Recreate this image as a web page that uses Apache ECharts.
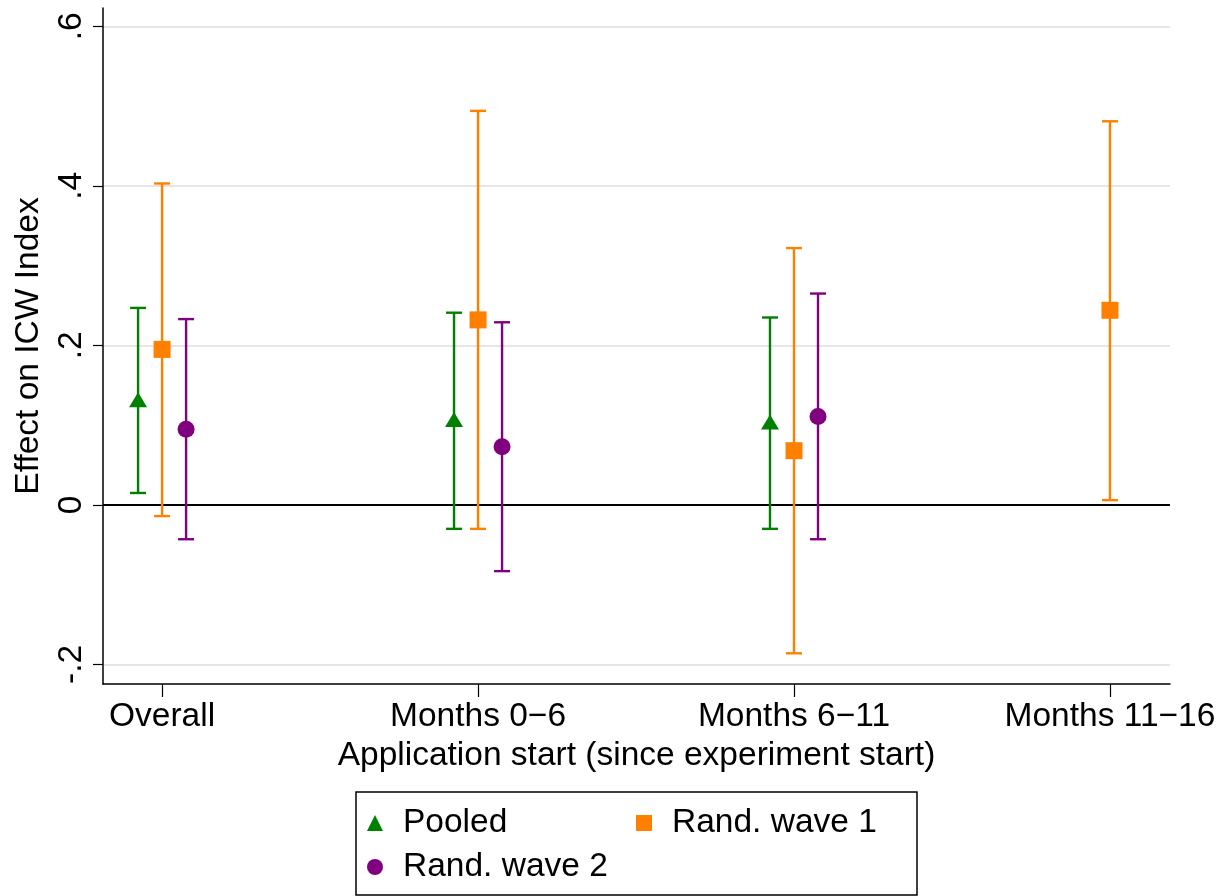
<!DOCTYPE html>
<html>
<head>
<meta charset="utf-8">
<script src="https://cdn.jsdelivr.net/npm/echarts@6/dist/echarts.min.js"></script>
<style>
html,body{margin:0;padding:0;background:#fff;}
#chart{width:1225px;height:896px;}
</style>
</head>
<body>
<div id="chart"></div>
<script>
// ---- data ----
const categories = ["Overall", "Months 0\u22126", "Months 6\u221211", "Months 11\u221216"];
const categoryPositions = [1, 2, 3, 4];
const yTickValues = [-0.2, 0, 0.2, 0.4, 0.6];
const yTickLabels = ["-.2", "0", ".2", ".4", ".6"];

const pooledEst = [0.132, 0.107, 0.104, null];
const pooledLo  = [0.015, -0.030, -0.030, null];
const pooledHi  = [0.247, 0.241, 0.235, null];

const wave1Est = [0.195, 0.232, 0.068, 0.244];
const wave1Lo  = [-0.014, -0.030, -0.186, 0.006];
const wave1Hi  = [0.403, 0.494, 0.322, 0.481];

const wave2Est = [0.095, 0.073, 0.111, null];
const wave2Lo  = [-0.043, -0.083, -0.043, null];
const wave2Hi  = [0.233, 0.229, 0.265, null];

// ---- styling / layout ----
const FONT = "'Liberation Sans', Arial, Helvetica, sans-serif";
const FS = 33.5;
const COLORS = { pooled: "#008000", wave1: "#ff8000", wave2: "#800080" };
const OFFSETS = { pooled: -0.076, wave1: 0, wave2: 0.076 };

function pointData(est, off) {
  const out = [];
  est.forEach((v, i) => { if (v != null) out.push([categoryPositions[i] + off, v]); });
  return out;
}
function barData(lo, hi, off) {
  const out = [];
  lo.forEach((v, i) => { if (v != null) out.push([categoryPositions[i] + off, v, hi[i]]); });
  return out;
}
function errorSeries(name, lo, hi, off, color) {
  return {
    type: 'custom',
    name: name + ' CI',
    data: barData(lo, hi, off),
    encode: { x: 0, y: [1, 2] },
    z: 3,
    silent: true,
    renderItem: function (params, api) {
      const x = api.value(0);
      const pLo = api.coord([x, api.value(1)]);
      const pHi = api.coord([x, api.value(2)]);
      const hw = 8;
      const st = { stroke: color, lineWidth: 2.4, fill: null };
      return {
        type: 'group',
        children: [
          { type: 'line', shape: { x1: pLo[0], y1: pLo[1], x2: pHi[0], y2: pHi[1] }, style: st },
          { type: 'line', shape: { x1: pLo[0] - hw, y1: pLo[1], x2: pLo[0] + hw, y2: pLo[1] }, style: st },
          { type: 'line', shape: { x1: pHi[0] - hw, y1: pHi[1], x2: pHi[0] + hw, y2: pHi[1] }, style: st }
        ]
      };
    }
  };
}

const chart = echarts.init(document.getElementById('chart'), null, { renderer: 'canvas' });

const option = {
  backgroundColor: '#ffffff',
  animation: false,
  textStyle: { fontFamily: FONT },
  grid: { left: 103, right: 55, top: 8, bottom: 212, containLabel: false },
  xAxis: {
    type: 'value',
    min: 0.813,
    max: 4.19,
    axisLine: { show: true, onZero: false, lineStyle: { color: '#000', width: 1.5 } },
    axisTick: { show: true, length: 13, customValues: categoryPositions, lineStyle: { color: '#000', width: 1.2 } },
    axisLabel: {
      customValues: categoryPositions,
      formatter: function (v) { const i = categoryPositions.indexOf(Math.round(v)); return i >= 0 ? categories[i] : ''; },
      color: '#000', fontSize: FS, fontFamily: FONT, margin: 16
    },
    splitLine: { show: false },
    name: 'Application start (since experiment start)',
    nameLocation: 'middle',
    nameGap: 51,
    nameTextStyle: { color: '#000', fontSize: FS, fontFamily: FONT }
  },
  yAxis: {
    type: 'value',
    min: -0.2245,
    max: 0.623,
    axisLine: { show: true, lineStyle: { color: '#000', width: 1.5 } },
    axisTick: { show: true, length: 10, customValues: yTickValues, lineStyle: { color: '#000', width: 1.2 } },
    axisLabel: {
      customValues: yTickValues,
      rotate: 90,
      formatter: function (v) {
        for (let i = 0; i < yTickValues.length; i++) if (Math.abs(v - yTickValues[i]) < 1e-6) return yTickLabels[i];
        return '';
      },
      color: '#000', fontSize: FS, fontFamily: FONT, margin: 14
    },
    splitLine: { show: true, lineStyle: { color: '#e6e6e6', width: 2 } },
    name: 'Effect on ICW Index',
    nameLocation: 'middle',
    nameRotate: 90,
    nameGap: 57,
    nameTextStyle: { color: '#000', fontSize: FS, fontFamily: FONT }
  },
  legend: {
    data: ['Pooled', 'Rand. wave 1', 'Rand. wave 2'],
    left: 356,
    top: 792,
    width: 545,
    orient: 'horizontal',
    padding: [14, 22, 11, 11],
    itemGap: 10,
    itemWidth: 16,
    itemHeight: 16,
    borderColor: '#000',
    borderWidth: 1.5,
    backgroundColor: '#fff',
    borderRadius: 0,
    textStyle: { color: '#000', fontSize: FS, fontFamily: FONT, width: 223, lineHeight: 34, padding: [0, 0, 0, 15] }
  },
  series: [
    errorSeries('Pooled', pooledLo, pooledHi, OFFSETS.pooled, COLORS.pooled),
    errorSeries('Rand. wave 1', wave1Lo, wave1Hi, OFFSETS.wave1, COLORS.wave1),
    errorSeries('Rand. wave 2', wave2Lo, wave2Hi, OFFSETS.wave2, COLORS.wave2),
    {
      type: 'scatter', name: 'Pooled', data: pointData(pooledEst, OFFSETS.pooled),
      symbol: 'triangle', symbolSize: [18, 15], itemStyle: { color: COLORS.pooled, opacity: 1 }, z: 5,
      markLine: {
        silent: true, symbol: ['none', 'none'], label: { show: false },
        lineStyle: { color: '#000', width: 2, type: 'solid' },
        data: [{ yAxis: 0 }], z: 2
      }
    },
    {
      type: 'scatter', name: 'Rand. wave 1', data: pointData(wave1Est, OFFSETS.wave1),
      symbol: 'rect', symbolSize: 17, itemStyle: { color: COLORS.wave1, opacity: 1 }, z: 5
    },
    {
      type: 'scatter', name: 'Rand. wave 2', data: pointData(wave2Est, OFFSETS.wave2),
      symbol: 'circle', symbolSize: 17, itemStyle: { color: COLORS.wave2, opacity: 1 }, z: 5
    }
  ]
};
chart.setOption(option);
</script>
</body>
</html>
